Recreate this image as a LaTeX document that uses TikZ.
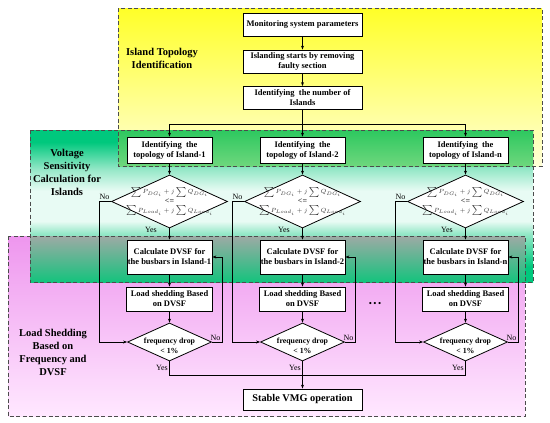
\documentclass[tikz,border=0pt]{standalone}
\usepackage{fontspec}
\setmainfont{Liberation Serif}
\usetikzlibrary{shapes.geometric,arrows.meta,calc}
\definecolor{yelT}{RGB}{255,255,40}
\definecolor{yelB}{RGB}{255,255,215}
\definecolor{pinkT}{RGB}{238,150,238}
\definecolor{pinkB}{RGB}{255,232,255}
\definecolor{grnT}{RGB}{0,200,125}
\definecolor{grnM}{RGB}{232,251,244}
\definecolor{grnB}{RGB}{0,200,125}
\definecolor{grnP}{RGB}{150,232,200}
\definecolor{gyT}{RGB}{45,200,95}
\definecolor{gyB}{RGB}{110,215,125}
\definecolor{gpT}{RGB}{158,170,165}
\definecolor{gpB}{RGB}{20,195,125}
\pgfdeclareverticalshading{grnsh}{100bp}{color(0bp)=(grnB); color(25bp)=(grnB); color(30bp)=(grnB); color(41bp)=(grnP); color(45bp)=(grnM); color(55bp)=(grnM); color(62bp)=(grnP); color(71bp)=(grnT); color(100bp)=(grnT)}
\newcommand{\condtext}{$\textstyle\sum P_{DG_i}+j\sum Q_{DG_i}$\\[0.5pt]{\fontsize{8}{8}\bfseries <=}\\[1pt]$\textstyle\sum P_{Load_i}+j\sum Q_{Load_i}$}
\begin{document}
\begin{tikzpicture}[x=1pt,y=-1pt,
  box/.style={draw,fill=white,line width=0.8pt,align=center,inner sep=0.5pt,font=\fontsize{8.5}{10}\bfseries\selectfont},
  dia/.style={draw,fill=white,shape=diamond,line width=0.8pt,inner sep=0pt},
  condlbl/.style={align=center,inner sep=0pt,text=black!80,font=\fontsize{6}{6.5}\selectfont},
  freqlbl/.style={align=center,inner sep=0pt,font=\fontsize{7.8}{9.5}\bfseries\selectfont},
  arr/.style={-{Stealth[length=4pt,width=3pt]},line width=0.8pt},
  ln/.style={line width=0.8pt},
  lbl/.style={font=\fontsize{8}{9}\selectfont,inner sep=0.5pt},
  region/.style={draw=black!70,dash pattern=on 4pt off 2.5pt,line width=0.9pt},
  rtitle/.style={align=center,font=\fontsize{10.5}{13}\bfseries\selectfont}]
\useasboundingbox (0,0) rectangle (550,423);
\fill[white] (0,0) rectangle (550,423);
% regions
\shade[top color=yelT,bottom color=yelB] (118,8) rectangle (542,166);
\shade[top color=pinkT,bottom color=pinkB] (8,236) rectangle (525,416);
\shade[shading=grnsh] (30,130) rectangle (533,282);
\shade[top color=gyT,bottom color=gyB] (118,130) rectangle (533,166);
\shade[top color=gpT,bottom color=gpB] (30,236) rectangle (525,282);
\draw[region] (118,8) rectangle (542,166);
\draw[region] (30,130) rectangle (533,282);
\draw[region] (8,236) rectangle (525,416);
% region titles
\node[rtitle] (t1) at (162,58) {Island Topology\\Identification};
\node[rtitle] (t2) at (67,172) {Voltage\\Sensitivity\\Calculation for\\Islands};
\node[rtitle] (t3) at (53,352) {Load Shedding\\Based on\\Frequency and\\DVSF};
% top chain
\node[box,minimum width=119pt,minimum height=23pt] (m1) at (302.5,24.5) {Monitoring system parameters};
\node[box,minimum width=119pt,minimum height=23pt] (m2) at (302.5,61.5) {Islanding starts by removing\\faulty section};
\node[box,minimum width=119pt,minimum height=23pt] (m3) at (302.5,98) {Identifying\ \ the number of\\Islands};
\draw[arr] (m1) -- (m2);
\draw[arr] (m2) -- (m3);
\coordinate (br) at (302.5,124);
\draw[ln] (m3.south) -- (br);
% columns
\foreach \k/\x in {1/169.5,2/302.5,n/465.5}{
  \node[box,minimum width=85pt,minimum height=26pt] (i\k) at (\x,150) {Identifying\ \ the\\topology of Island-\k};
  \node[dia,minimum width=116pt,minimum height=53pt,label={[condlbl]center:\condtext}] (d\k) at (\x,201.5) {};
  \node[box,minimum width=85pt,minimum height=34pt] (c\k) at (\x,257) {Calculate DVSF for\\the busbars in Island-\k};
  \node[box,minimum width=86pt,minimum height=24pt] (l\k) at (\x,299) {Load shedding Based\\on DVSF};
  \node[dia,minimum width=84pt,minimum height=38pt,label={[freqlbl,yshift=-4pt]center:frequency drop\\< 1\%}] (f\k) at (\x,342) {};
  \draw[arr] (br) -| (i\k.north);
  \draw[arr] (i\k) -- (d\k);
  \draw[arr] (d\k) -- (c\k);
  \draw[arr] (c\k) -- (l\k);
  \draw[arr] (l\k) -- (f\k);
  \draw[arr] (d\k.west) -- ++(-12,0) |- (f\k.west);
  \draw[arr] (f\k.east) -- ++(10,0) |- (c\k.east);
  \node[lbl,anchor=south east] (no\k) at ($(d\k.west)+(-1,-1)$) {No};
  \node[lbl,anchor=east] (yes\k) at ($(d\k.south)+(-12,1.5)$) {Yes};
  \node[lbl,anchor=south west] (nf\k) at ($(f\k.east)+(-2,-1)$) {No};
  \node[lbl,anchor=east] (yf\k) at ($(f\k.south)+(-1,7)$) {Yes};
}
\node[box,minimum width=119pt,minimum height=21pt,font=\fontsize{10.3}{12}\bfseries\selectfont] (s) at (302.5,399.5) {Stable VMG operation};
\coordinate (yj) at (302.5,375);
\draw[ln] (f1.south) |- (yj);
\draw[ln] (fn.south) |- (yj);
\draw[arr] (f2) -- (s);
\node[font=\fontsize{9}{10}\selectfont] (dots) at (375,304) {\textbullet\,\textbullet\,\textbullet};
\end{tikzpicture}
\end{document}
